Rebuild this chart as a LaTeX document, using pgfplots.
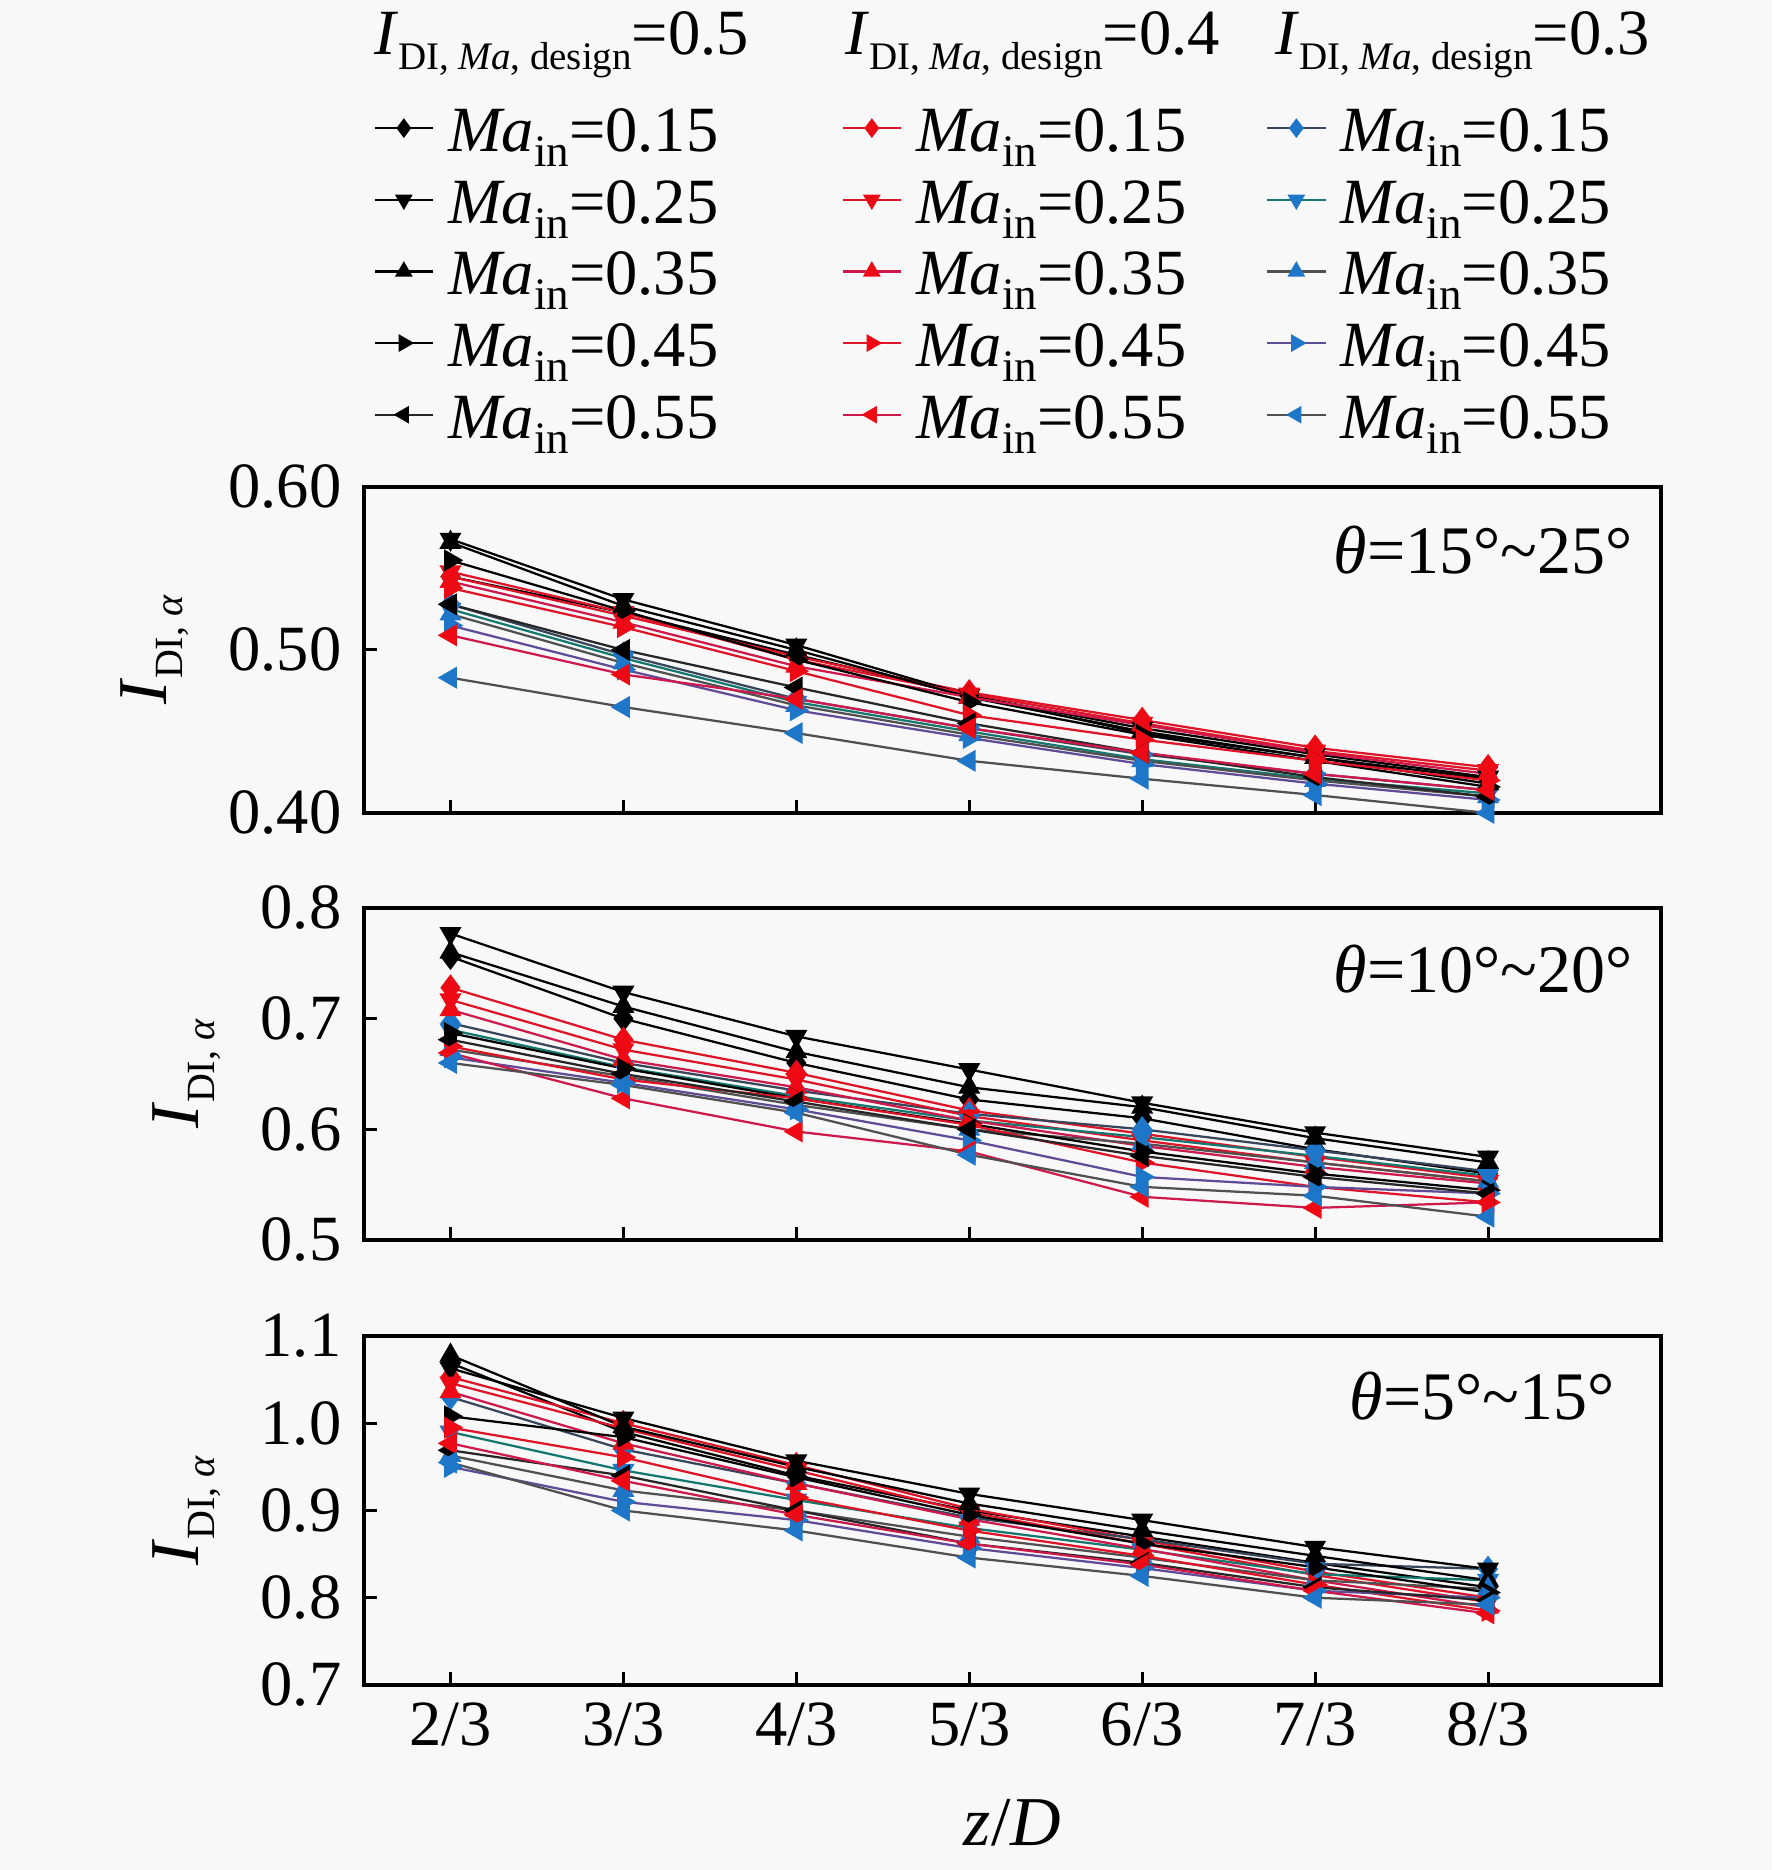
\documentclass[border=0pt]{standalone}
\usepackage{fontspec}
\setmainfont{Liberation Serif}
\usepackage{pgfplots}
\usepackage{pgfplotstable}
\pgfplotsset{compat=1.18}

\definecolor{bgc}{RGB}{248,248,248}
\definecolor{redm}{RGB}{238,10,20}
\definecolor{redA}{RGB}{222,20,40}
\definecolor{redB}{RGB}{205,25,75}
\definecolor{bluem}{RGB}{30,118,200}
\definecolor{bgA}{RGB}{55,70,90}
\definecolor{bgB}{RGB}{20,120,110}
\definecolor{bgC}{RGB}{80,80,80}
\definecolor{bgD}{RGB}{95,75,150}

\newcommand\fa{\fontsize{12.9}{15}\selectfont}
\newcommand\fb{\fontsize{14}{16}\selectfont}
\newcommand\ft{\fontsize{13.6}{16}\selectfont}
\newcommand\sub[2]{\raisebox{-0.23em}{\fontsize{#1}{#1}\selectfont #2}}
\newcommand\lgd[1]{\textit{Ma}\sub{9}{in}=#1}
\newcommand\lgA[1]{\lgd{#1}\hspace*{24.6pt}}
\newcommand\lgB[1]{\lgd{#1}\hspace*{15.9pt}}

% theta = 15-25 deg
\pgfplotstableread{
x B1 B2 B3 B4 B5 R1 R2 R3 R4 R5 U1 U2 U3 U4 U5
0 0.545 0.568 0.566 0.555 0.528 0.545 0.548 0.542 0.538 0.509 0.528 0.525 0.522 0.515 0.483
1 0.523 0.531 0.527 0.524 0.500 0.521 0.523 0.517 0.514 0.485 0.497 0.495 0.492 0.488 0.465
2 0.497 0.503 0.500 0.494 0.477 0.496 0.494 0.490 0.487 0.470 0.470 0.468 0.466 0.463 0.449
3 0.472 0.472 0.471 0.468 0.455 0.474 0.473 0.471 0.460 0.452 0.452 0.450 0.448 0.446 0.432
4 0.449 0.452 0.450 0.448 0.437 0.457 0.455 0.454 0.445 0.437 0.436 0.433 0.432 0.430 0.421
5 0.434 0.436 0.434 0.432 0.422 0.440 0.438 0.437 0.432 0.424 0.424 0.421 0.420 0.418 0.411
6 0.421 0.422 0.418 0.416 0.410 0.428 0.426 0.424 0.420 0.414 0.414 0.412 0.410 0.408 0.400
}\dA
% theta = 10-20 deg
\pgfplotstableread{
x B1 B2 B3 B4 B5 R1 R2 R3 R4 R5 U1 U2 U3 U4 U5
0 0.756 0.777 0.760 0.687 0.681 0.728 0.717 0.708 0.675 0.669 0.696 0.690 0.672 0.665 0.660
1 0.700 0.724 0.711 0.655 0.650 0.681 0.672 0.663 0.645 0.628 0.660 0.656 0.648 0.642 0.640
2 0.660 0.684 0.670 0.628 0.625 0.651 0.645 0.638 0.628 0.598 0.635 0.630 0.622 0.618 0.615
3 0.627 0.654 0.638 0.605 0.600 0.617 0.612 0.608 0.604 0.580 0.614 0.608 0.600 0.590 0.577
4 0.610 0.624 0.620 0.580 0.576 0.596 0.590 0.585 0.570 0.539 0.600 0.593 0.587 0.557 0.548
5 0.582 0.597 0.592 0.560 0.557 0.575 0.570 0.566 0.548 0.529 0.581 0.576 0.570 0.548 0.540
6 0.560 0.575 0.570 0.545 0.542 0.556 0.553 0.551 0.534 0.534 0.562 0.558 0.553 0.542 0.521
}\dB
% theta = 5-15 deg
\pgfplotstableread{
x B1 B2 B3 B4 B5 R1 R2 R3 R4 R5 U1 U2 U3 U4 U5
0 1.069 1.063 1.078 1.008 0.969 1.053 1.046 1.036 0.995 0.977 1.030 0.990 0.963 0.950 0.955
1 0.990 1.006 0.996 0.984 0.940 1.000 0.994 0.977 0.961 0.934 0.970 0.946 0.923 0.910 0.900
2 0.940 0.957 0.950 0.938 0.900 0.952 0.946 0.931 0.915 0.895 0.931 0.912 0.900 0.889 0.877
3 0.900 0.919 0.908 0.895 0.862 0.902 0.898 0.890 0.877 0.862 0.892 0.880 0.870 0.857 0.846
4 0.870 0.889 0.877 0.862 0.840 0.866 0.862 0.856 0.848 0.838 0.867 0.855 0.846 0.834 0.825
5 0.840 0.858 0.848 0.835 0.812 0.830 0.826 0.820 0.815 0.808 0.839 0.827 0.820 0.808 0.800
6 0.812 0.833 0.820 0.806 0.797 0.800 0.795 0.789 0.785 0.782 0.833 0.820 0.810 0.800 0.792
}\dC

\pgfplotsset{
 sB1/.style={draw=black, line width=0.45pt, mark=diamond*, mark size=2.3pt, mark options={solid, draw=black, fill=black}},
 sB2/.style={draw=black, line width=0.45pt, mark=triangle*, mark size=2.1pt, mark options={solid, draw=black, fill=black, rotate=180}},
 sB3/.style={draw=black, line width=0.45pt, mark=triangle*, mark size=2.1pt, mark options={solid, draw=black, fill=black}},
 sB4/.style={draw=black, line width=0.45pt, mark=triangle*, mark size=2.1pt, mark options={solid, draw=black, fill=black, rotate=-90}},
 sB5/.style={draw=black!85, line width=0.45pt, mark=triangle*, mark size=2.1pt, mark options={solid, draw=black, fill=black, rotate=90}},
 sR1/.style={draw=redA, line width=0.45pt, mark=diamond*, mark size=2.3pt, mark options={solid, draw=redm, fill=redm}},
 sR2/.style={draw=redA, line width=0.45pt, mark=triangle*, mark size=2.1pt, mark options={solid, draw=redm, fill=redm, rotate=180}},
 sR3/.style={draw=redB, line width=0.45pt, mark=triangle*, mark size=2.1pt, mark options={solid, draw=redm, fill=redm}},
 sR4/.style={draw=redA, line width=0.45pt, mark=triangle*, mark size=2.1pt, mark options={solid, draw=redm, fill=redm, rotate=-90}},
 sR5/.style={draw=redB, line width=0.45pt, mark=triangle*, mark size=2.1pt, mark options={solid, draw=redm, fill=redm, rotate=90}},
 sU1/.style={draw=bgA, line width=0.45pt, mark=diamond*, mark size=2.3pt, mark options={solid, draw=bluem, fill=bluem}},
 sU2/.style={draw=bgB, line width=0.45pt, mark=triangle*, mark size=2.1pt, mark options={solid, draw=bluem, fill=bluem, rotate=180}},
 sU3/.style={draw=bgC, line width=0.45pt, mark=triangle*, mark size=2.1pt, mark options={solid, draw=bluem, fill=bluem}},
 sU4/.style={draw=bgD, line width=0.45pt, mark=triangle*, mark size=2.1pt, mark options={solid, draw=bluem, fill=bluem, rotate=-90}},
 sU5/.style={draw=bgC, line width=0.45pt, mark=triangle*, mark size=2.1pt, mark options={solid, draw=bluem, fill=bluem, rotate=90}},
 panel/.style={
   scale only axis, width=259.4pt, anchor=south west,
   xmin=-0.5, xmax=7, xtick={0,1,2,3,4,5,6},
   tick align=inside, xtick pos=bottom, ytick pos=left,
   major tick length=2.6pt,
   axis line style={line width=0.8pt},
   every tick/.style={black, line width=0.6pt},
   tick label style={font=\fa},
   /pgf/number format/assume math mode=true,
   yticklabel style={/pgf/number format/fixed, /pgf/number format/fixed zerofill, xshift=-1pt},
   ylabel={\textit{I}\sub{8}{DI, \textit{α}}},
   ylabel style={font=\fb, anchor=base, rotate=0},
   clip=false,
 },
}

\newcommand\plotall[1]{%
 \addplot[sB1] table[x=x,y=B1]{#1};
 \addplot[sR1] table[x=x,y=R1]{#1};
 \addplot[sU1] table[x=x,y=U1]{#1};
 \addplot[sB2] table[x=x,y=B2]{#1};
 \addplot[sR2] table[x=x,y=R2]{#1};
 \addplot[sU2] table[x=x,y=U2]{#1};
 \addplot[sB3] table[x=x,y=B3]{#1};
 \addplot[sR3] table[x=x,y=R3]{#1};
 \addplot[sU3] table[x=x,y=U3]{#1};
 \addplot[sB4] table[x=x,y=B4]{#1};
 \addplot[sR4] table[x=x,y=R4]{#1};
 \addplot[sU4] table[x=x,y=U4]{#1};
 \addplot[sB5] table[x=x,y=B5]{#1};
 \addplot[sR5] table[x=x,y=R5]{#1};
 \addplot[sU5] table[x=x,y=U5]{#1};
}

\begin{document}
\begin{tikzpicture}
\useasboundingbox (0,0) rectangle (354.4pt,374pt);
\fill[bgc] (0,0) rectangle (354.4pt,374pt);

% panel 1
\begin{axis}[panel, at={(72.8pt,211.4pt)}, height=65.2pt,
  ymin=0.4, ymax=0.6, ytick={0.4,0.5,0.6},
  yticklabel style={/pgf/number format/precision=2},
  xticklabels={},
  ylabel style={at={(axis description cs:-0.1523,0.5)}},
  legend columns=3,
  legend cell align=left,
  legend entries={{\lgA{0.15}},{\lgB{0.15}},{\lgd{0.15}},{\lgA{0.25}},{\lgB{0.25}},{\lgd{0.25}},{\lgA{0.35}},{\lgB{0.35}},{\lgd{0.35}},{\lgA{0.45}},{\lgB{0.45}},{\lgd{0.45}},{\lgA{0.55}},{\lgB{0.55}},{\lgd{0.55}}},
  legend image code/.code={\draw[mark repeat=2,mark phase=2,#1,mark size=1.6pt] plot coordinates {(0pt,0pt) (5.85pt,0pt) (11.7pt,0pt)};},
  legend style={at={(axis description cs:0.0073,2.2106)}, anchor=north west,
    draw=none, fill=none, inner sep=0pt, outer sep=0pt, row sep=0pt, font=\fa,
    nodes={inner sep=0pt, text height=11.87pt, text depth=2.46pt},
    /tikz/every odd column/.style={column sep=2.8pt},
    /tikz/every even column/.style={column sep=0pt}},
]
\plotall{\dA}
\node[anchor=base east, font=\ft, inner sep=0pt] at (rel axis cs:0.979,0.735) {\textit{θ}=15°\textasciitilde25°};
\end{axis}

% panel 2
\begin{axis}[panel, at={(72.8pt,126pt)}, height=66.4pt,
  ymin=0.5, ymax=0.8, ytick={0.5,0.6,0.7,0.8},
  yticklabel style={/pgf/number format/precision=1},
  xticklabels={},
  ylabel style={at={(axis description cs:-0.1274,0.5)}},
]
\plotall{\dB}
\node[anchor=base east, font=\ft, inner sep=0pt] at (rel axis cs:0.979,0.744) {\textit{θ}=10°\textasciitilde20°};
\end{axis}

% panel 3
\begin{axis}[panel, at={(72.8pt,37pt)}, height=69.8pt,
  ymin=0.7, ymax=1.1, ytick={0.7,0.8,0.9,1.0,1.1},
  yticklabel style={/pgf/number format/precision=1},
  xticklabels={2/3,3/3,4/3,5/3,6/3,7/3,8/3},
  xlabel={\textit{z}/\textit{D}},
  xlabel style={font=\fb, at={(axis description cs:0.5,-0.461)}, anchor=base},
  ylabel style={at={(axis description cs:-0.1274,0.5)}},
]
\plotall{\dC}
\node[anchor=base east, font=\ft, inner sep=0pt] at (rel axis cs:0.965,0.762) {\textit{θ}=5°\textasciitilde15°};
\end{axis}

% legend column headers
\node[anchor=base west, font=\fa, inner sep=0pt] at (74.6pt,363pt) {\textit{I}\sub{7.8}{DI, \textit{Ma}, design}=0.5};
\node[anchor=base west, font=\fa, inner sep=0pt] at (168.8pt,363pt) {\textit{I}\sub{7.8}{DI, \textit{Ma}, design}=0.4};
\node[anchor=base west, font=\fa, inner sep=0pt] at (254.8pt,363pt) {\textit{I}\sub{7.8}{DI, \textit{Ma}, design}=0.3};
\end{tikzpicture}
\end{document}
